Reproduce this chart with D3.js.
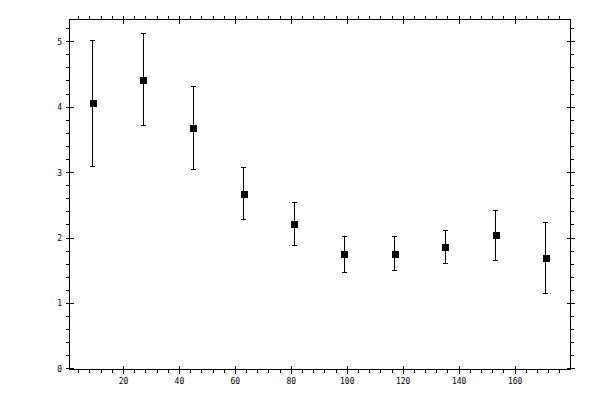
<!DOCTYPE html>
<html>
<head>
<meta charset="utf-8">
<script src="https://cdn.jsdelivr.net/npm/d3@7"></script>
<style>
  html, body { margin: 0; padding: 0; background: #fff; }
  svg { display: block; }
  text { font-family: "DejaVu Sans Mono", monospace; font-size: 8px; fill: #000; }
</style>
</head>
<body>
<svg id="chart" width="600" height="400"></svg>
<script>
// Data
const xValues = [9, 27, 45, 63, 81, 99, 117, 135, 153, 171];
const yValues = [4.06, 4.42, 3.68, 2.68, 2.21, 1.75, 1.76, 1.86, 2.04, 1.69];
const yErrors = [0.96, 0.70, 0.63, 0.40, 0.33, 0.28, 0.26, 0.25, 0.38, 0.54];
const xMajorTicks = [20, 40, 60, 80, 100, 120, 140, 160];
const yMajorTicks = [0, 1, 2, 3, 4, 5];

(function () {
const svg = d3.select("#chart");
const pLeft = 69.5, pRight = 570.5, pTop = 19.5, pBottom = 369.5;

const x = d3.scaleLinear().domain([0.7, 179.8]).range([pLeft, pRight]);
const y = d3.scaleLinear().domain([-0.01, 5.34]).range([pBottom, pTop]);

const xMinor = d3.range(4, 180, 4).filter(v => v % 20 !== 0);
const yMinor = d3.range(1, 27).map(i => i * 0.2).filter(v => Math.abs(v - Math.round(v)) > 1e-6 && v < 5.34);

const g = svg.append("g").attr("shape-rendering", "crispEdges");

g.append("rect").attr("x", pLeft).attr("y", pTop).attr("width", pRight - pLeft).attr("height", pBottom - pTop)
  .attr("fill", "none").attr("stroke", "#000").attr("stroke-width", 1);

function snap(v) { return Math.round(v - 0.5) + 0.5; }

xMinor.forEach(v => {
  const px = snap(x(v));
  g.append("line").attr("x1", px).attr("x2", px).attr("y1", pBottom).attr("y2", pBottom + 3.5).attr("stroke", "#000");
  g.append("line").attr("x1", px).attr("x2", px).attr("y1", pTop).attr("y2", pTop - 3.5).attr("stroke", "#000");
});
xMajorTicks.forEach(v => {
  const px = snap(x(v));
  g.append("line").attr("x1", px).attr("x2", px).attr("y1", pBottom - 4).attr("y2", pBottom + 4).attr("stroke", "#000");
  g.append("line").attr("x1", px).attr("x2", px).attr("y1", pTop - 4).attr("y2", pTop + 4).attr("stroke", "#000");
  svg.append("text").attr("x", x(v)).attr("y", 384).attr("text-anchor", "middle").text(v);
});
yMinor.forEach(v => {
  const py = snap(y(v));
  g.append("line").attr("y1", py).attr("y2", py).attr("x1", pLeft).attr("x2", pLeft - 3.5).attr("stroke", "#000");
  g.append("line").attr("y1", py).attr("y2", py).attr("x1", pRight).attr("x2", pRight + 3.5).attr("stroke", "#000");
});
yMajorTicks.forEach(v => {
  const py = snap(y(v));
  g.append("line").attr("y1", py).attr("y2", py).attr("x1", pLeft - 4).attr("x2", pLeft + 4).attr("stroke", "#000");
  g.append("line").attr("y1", py).attr("y2", py).attr("x1", pRight - 4).attr("x2", pRight + 4).attr("stroke", "#000");
  svg.append("text").attr("x", 62).attr("y", y(v) + 3).attr("text-anchor", "end").text(v);
});

const data = xValues.map((xv, i) => ({ x: xv, y: yValues[i], e: yErrors[i] }));
const eb = g.append("g").attr("stroke", "#000").attr("stroke-width", 1);
data.forEach(d => {
  const px = snap(x(d.x));
  const y1 = snap(y(d.y + d.e)), y2 = snap(y(d.y - d.e));
  eb.append("line").attr("x1", px).attr("x2", px).attr("y1", y1).attr("y2", y2);
  eb.append("line").attr("x1", px - 2.5).attr("x2", px + 2.5).attr("y1", y1).attr("y2", y1);
  eb.append("line").attr("x1", px - 2.5).attr("x2", px + 2.5).attr("y1", y2).attr("y2", y2);
});
g.selectAll("rect.pt").data(data).enter().append("rect")
  .attr("class", "pt")
  .attr("x", d => Math.round(x(d.x)) - 3.5)
  .attr("y", d => Math.round(y(d.y)) - 3.5)
  .attr("width", 7).attr("height", 7)
  .attr("fill", "#000");
})();
</script>
</body>
</html>
